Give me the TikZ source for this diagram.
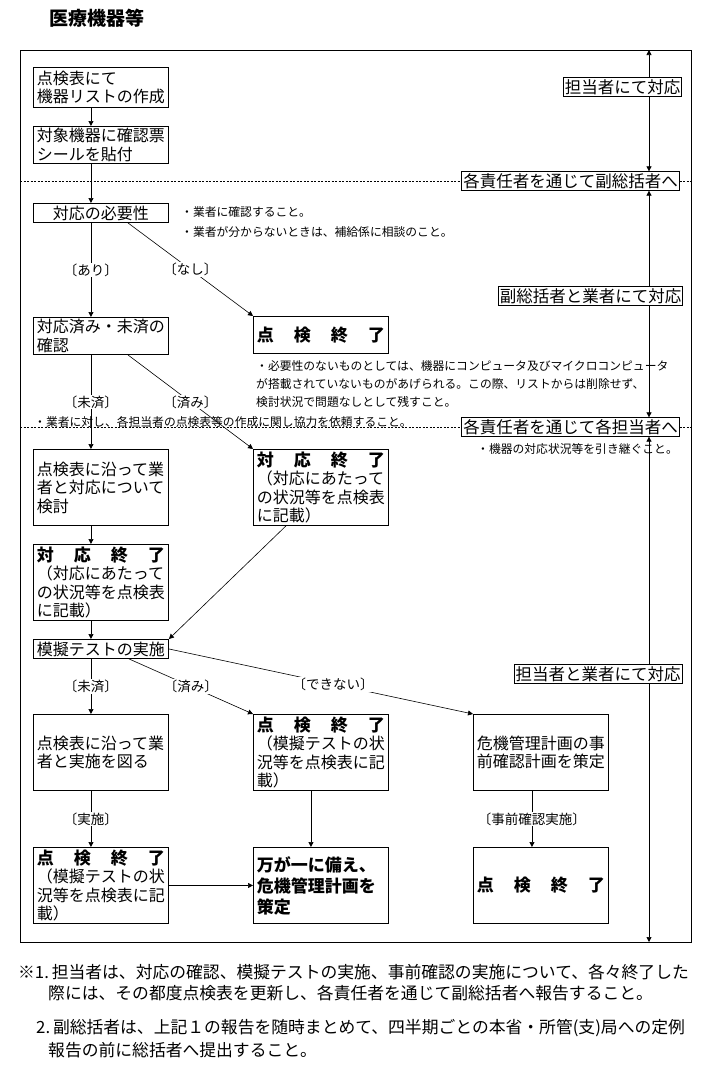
\documentclass[tikz,border=0pt]{standalone}
\usepackage{fontspec}
\setmainfont{Noto Sans CJK JP}
\usetikzlibrary{arrows.meta}

\tikzset{
  box/.style={draw, line width=0.9pt, text width=128pt, inner xsep=3.5pt, inner ysep=1pt,
    align=left, anchor=north west, font=\fontsize{16}{18.5}\selectfont},
  endbox/.style={box, align=center, font=\fontsize{17}{21}\selectfont\bfseries},
  sidebox/.style={draw, line width=0.9pt, fill=white, inner xsep=1.5pt, inner ysep=1.5pt,
    font=\fontsize{16.5}{18}\selectfont},
  note/.style={anchor=west, align=left, inner sep=0pt},
  cond/.style={fill=white, inner sep=1pt, font=\fontsize{13.5}{14}\selectfont},
  link/.style={line width=0.6pt, -{Triangle[length=5pt,width=5pt]}},
  both/.style={line width=0.7pt, {Triangle[length=5pt,width=5pt]}-{Triangle[length=5pt,width=5pt]}},
  sep/.style={line width=0.6pt, dash pattern=on 2pt off 1.5pt},
}
\newcommand{\spread}[4]{#1\hfill #2\hfill #3\hfill #4}

\begin{document}
\begin{tikzpicture}[x=1pt,y=-1pt]
    \useasboundingbox (0,0) rectangle (706,1077);
    \coordinate (nw) at (20,50);
    \coordinate (se) at (691,942);
    \coordinate (vtop) at (649,50);
    \coordinate (vbot) at (649,942);

    % Titolo e cornice
    \node[font=\fontsize{19}{20}\selectfont\bfseries] (title) at (97,18) {医療機器等};
    \draw[line width=0.9pt] (nw) rectangle (se);

    % Colonna sinistra
    \node[box, minimum height=40pt] (list) at (33,67) {点検表にて\\機器リストの作成};
    \node[box, minimum height=37pt] (seal) at (33,126) {対象機器に確認票\\シールを貼付};
    \node[box, align=center, minimum height=19pt] (need) at (33,203) {対応の必要性};
    \node[box, minimum height=37pt] (state) at (33,317) {対応済み・未済の\\確認};
    \node[box, minimum height=76pt] (study) at (33,449) {点検表に沿って業\\者と対応について\\検討};
    \node[box, minimum height=76pt] (done) at (33,544) {{\bfseries\fontsize{17}{18}\selectfont\spread{対}{応}{終}{了}}\\（対応にあたって\\の状況等を点検表\\に記載）};
    \node[box, minimum height=19pt] (test) at (33,639) {模擬テストの実施};
    \node[box, minimum height=76pt] (plan) at (33,714) {点検表に沿って業\\者と実施を図る};
    \node[box, minimum height=76pt] (testend) at (33,847) {{\bfseries\fontsize{17}{18}\selectfont\spread{点}{検}{終}{了}}\\（模擬テストの状\\況等を点検表に記\\載）};

    % Colonna centrale
    \node[endbox, minimum height=37pt] (noneed) at (253,316) {\spread{点}{検}{終}{了}};
    \node[box, minimum height=76pt] (already) at (253,449) {{\bfseries\fontsize{17}{18}\selectfont\spread{対}{応}{終}{了}}\\（対応にあたって\\の状況等を点検表\\に記載）};
    \node[box, minimum height=76pt] (tested) at (253,714) {{\bfseries\fontsize{17}{18}\selectfont\spread{点}{検}{終}{了}}\\（模擬テストの状\\況等を点検表に記\\載）};
    \node[box, minimum height=76pt, font=\fontsize{17}{21}\selectfont\bfseries] (crisis) at (253,847) {万が一に備え、\\危機管理計画を\\策定};

    % Colonna destra
    \node[box, minimum height=76pt] (precheck) at (473,714) {危機管理計画の事\\前確認計画を策定};
    \node[endbox, minimum height=76pt] (final) at (473,847) {\spread{点}{検}{終}{了}};

    % Frecce
    \draw[link] ([xshift=-10pt]list.south) -- ([xshift=-10pt]seal.north);
    \draw[link] ([xshift=-10pt]seal.south) -- ([xshift=-10pt]need.north);
    \draw[link] ([xshift=-10pt]need.south) -- node[cond] {〔あり〕} ([xshift=-10pt]state.north);
    \draw[link] ([xshift=27pt]need.south) -- node[cond] {〔なし〕} (noneed.north west);
    \draw[link] ([xshift=-10pt]state.south) -- node[cond] {〔未済〕} ([xshift=-10pt]study.north);
    \draw[link] ([xshift=27pt]state.south) -- node[cond] {〔済み〕} (already.north west);
    \draw[link] ([xshift=-10pt]study.south) -- ([xshift=-10pt]done.north);
    \draw[link] ([xshift=-10pt]done.south) -- ([xshift=-10pt]test.north);
    \draw[link] ([xshift=-35pt]already.south) -- (test.north east);
    \draw[link] ([xshift=-10pt]test.south) -- node[cond] {〔未済〕} ([xshift=-10pt]plan.north);
    \draw[link] ([xshift=28pt]test.south) -- node[cond] {〔済み〕} (tested.north west);
    \draw[link] (test.east) -- node[cond, pos=0.54] {〔できない〕} (precheck.north west);
    \draw[link] ([xshift=-10pt]plan.south) -- node[cond] {〔実施〕} ([xshift=-10pt]testend.north);
    \draw[link] ([xshift=-10pt]tested.south) -- ([xshift=-10pt]crisis.north);
    \draw[link] (testend.east) -- (crisis.west);
    \draw[link] ([xshift=-9pt]precheck.south) -- node[cond] {〔事前確認実施〕} ([xshift=-9pt]final.north);

    % Responsabili
    \node[sidebox] (viasub) at (570.5,181) {各責任者を通じて副総括者へ};
    \node[sidebox] (viaeach) at (570.5,427) {各責任者を通じて各担当者へ};
    \draw[sep] (nw |- viasub) -- (viasub.west);
    \draw[sep] (viasub.east) -- (se |- viasub);
    \draw[sep] (nw |- viaeach) -- (viaeach.west);
    \draw[sep] (viaeach.east) -- (se |- viaeach);
    \draw[both] (vtop) -- (vtop |- viasub.north);
    \draw[both] (vtop |- viasub.south) -- (vtop |- viaeach.north);
    \draw[both] (vtop |- viaeach.south) -- (vbot);
    \node[sidebox] (staff) at (622.5,87) {担当者にて対応};
    \node[sidebox] (subvendor) at (590.5,296) {副総括者と業者にて対応};
    \node[sidebox] (staffvendor) at (598,674) {担当者と業者にて対応};

    % Note
    \node[note, font=\fontsize{11.8}{20}\selectfont] (hint1) at (181,222) {・業者に確認すること。\\・業者が分からないときは、補給係に相談のこと。};
    \node[note, font=\fontsize{11.8}{18}\selectfont] (hint2) at (256,384) {・必要性のないものとしては、機器にコンピュータ及びマイクロコンピュータ\\が搭載されていないものがあげられる。この際、リストからは削除せず、\\検討状況で問題なしとして残すこと。};
    \node[note, font=\fontsize{11.8}{18}\selectfont] (hint3) at (34,422) {・業者に対し、各担当者の点検表等の作成に関し協力を依頼すること。};
    \node[note, font=\fontsize{11.8}{18}\selectfont] (hint4) at (477,449) {・機器の対応状況等を引き継ぐこと。};

    % Richiami
    \node[note, font=\fontsize{16.8}{18}\selectfont] (foot1) at (18,972) {※\makebox[1em][l]{1.}担当者は、対応の確認、模擬テストの実施、事前確認の実施について、各々終了した};
    \node[note, font=\fontsize{16.8}{18}\selectfont] (foot1b) at (48,993) {際には、その都度点検表を更新し、各責任者を通じて副総括者へ報告すること。};
    \node[note, font=\fontsize{16.8}{18}\selectfont] (foot2) at (36,1028) {\makebox[1em][l]{2.}副総括者は、上記１の報告を随時まとめて、四半期ごとの本省・所管(支)局への定例};
    \node[note, font=\fontsize{16.8}{18}\selectfont] (foot2b) at (48,1050) {報告の前に総括者へ提出すること。};
\end{tikzpicture}
\end{document}
